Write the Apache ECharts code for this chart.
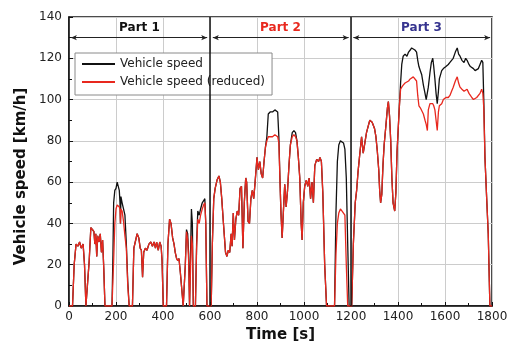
<!DOCTYPE html>
<html>
<head>
<meta charset="utf-8">
<script src="https://cdn.jsdelivr.net/npm/echarts@6/dist/echarts.min.js"></script>
<style>
  html, body { margin: 0; padding: 0; background: #fff; }
  #chart { width: 512px; height: 354px; }
</style>
</head>
<body>
<div id="chart"></div>
<script>
// Drive cycle: time [s], full vehicle speed and reduced vehicle speed [km/h]
const timeS = [
  0, 15, 22, 30, 38, 45, 52, 60, 66, 72, 80, 86, 93, 100, 106, 110, 114, 118, 122, 128,
  133, 138, 143, 148, 153, 183, 187, 190, 195, 200, 205, 210, 214, 217, 219, 221, 226, 232, 238, 244,
  250, 256, 270, 276, 282, 290, 297, 303, 308, 313, 318, 325, 332, 340, 348, 355, 362, 368, 373, 380,
  386, 392, 396, 401, 415, 421, 428, 434, 441, 447, 452, 458, 463, 468, 474, 480, 486, 490, 495, 500,
  505, 509, 513, 517, 521, 525, 529, 538, 543, 548, 554, 560, 567, 573, 578, 582, 587, 605,
  610, 616, 622, 630, 638, 644, 650, 656, 661, 666, 672, 678, 684, 690, 694, 699, 704, 710, 716, 722,
  728, 734, 740, 746, 752, 756, 762, 768, 774, 780, 786, 792, 800, 806, 812, 818, 824, 830, 836, 842,
  848, 856, 866, 876, 888, 893, 898, 902, 907, 912, 918, 924, 930, 936, 942, 950, 957, 964, 970, 976,
  982, 988, 992, 997, 1003, 1010, 1016, 1022, 1028, 1034, 1040, 1046, 1054, 1062, 1068, 1074, 1080, 1088, 1096, 1130,
  1136, 1142, 1148, 1155, 1162, 1168, 1174, 1180, 1186, 1192, 1203,
  1210, 1218, 1224, 1230, 1236, 1245, 1252, 1259, 1266, 1273, 1280, 1290, 1300, 1306, 1312, 1318, 1322, 1326, 1331, 1336,
  1341, 1349, 1355, 1359, 1364, 1369, 1374, 1379, 1386, 1391, 1396, 1401, 1406, 1411, 1416, 1422, 1430, 1438, 1445, 1452,
  1458, 1465, 1472, 1479, 1484, 1489, 1495, 1501, 1508, 1515, 1520, 1525, 1529, 1536, 1542, 1548, 1552, 1557, 1562, 1567,
  1572, 1576, 1586, 1593, 1604, 1614, 1621, 1628, 1635, 1644, 1652, 1658, 1664, 1672, 1681, 1688, 1694, 1702, 1708, 1714,
  1721, 1728, 1735, 1742, 1749, 1756, 1761, 1765, 1770, 1777, 1784, 1791, 1800
];

const speedFull = [
  0, 0, 20, 30, 29, 31, 28, 30, 20, 0, 0, 22, 38, 37, 36, 30, 35, 24, 34, 31,
  35, 26, 32, 18, 0, 0, 25, 50, 56, 57, 60, 60, 56, 50, 40, 53, 50, 47, 44, 30,
  12, 0, 0, 28, 31, 35, 33, 28, 27, 14, 26, 28, 27, 30, 31, 29, 31, 28, 31, 27,
  31, 29, 22, 0, 0, 30, 42, 40, 33, 30, 26, 23, 22, 23, 16, 8, 0, 0, 20, 37,
  35, 25, 0, 0, 47, 40, 0, 0, 30, 46, 44, 47, 50, 51, 52, 40, 0, 0,
  30, 52, 57, 61, 63, 60, 52, 42, 34, 26, 24, 27, 26, 35, 29, 45, 32, 42, 46, 44,
  57, 58, 28, 50, 62, 60, 41, 40, 52, 56, 52, 60, 72, 66, 70, 64, 62, 70, 77, 82,
  93, 94, 94, 95, 94, 82, 60, 45, 33, 45, 59, 48, 56, 68, 78, 84, 85, 84, 80, 72,
  62, 40, 32, 50, 58, 61, 58, 62, 52, 60, 50, 68, 71, 70, 72, 70, 55, 20, 0, 0,
  45, 70, 78, 80, 80, 79, 76, 62, 30, 0, 0,
  30, 50, 56, 65, 72, 82, 74, 79, 84, 87, 90, 89, 86, 82, 75, 66, 56, 50, 54, 68,
  78, 88, 96, 99, 92, 80, 62, 50, 46, 55, 75, 86, 97, 108, 117, 121, 122, 121, 123, 124,
  125, 125, 124, 123, 119, 116, 114, 112, 107, 103, 100, 100, 106, 113, 118, 120, 116, 110, 103, 98,
  104, 110, 114, 115, 116, 117, 118, 119, 120, 123, 125, 122, 121, 119, 118, 120, 119, 117, 116, 116,
  115, 114, 114, 115, 117, 119, 118, 100, 72, 53, 35, 0, 0
];

const speedReduced = [
  0, 0, 20, 30, 29, 31, 28, 30, 20, 0, 0, 22, 38, 37, 36, 30, 35, 24, 34, 31,
  35, 26, 32, 18, 0, 0, 0, 22, 40, 47, 49, 49, 48, 47, 40, 47, 46, 41, 34, 28,
  10, 0, 0, 28, 31, 35, 33, 28, 27, 14, 26, 28, 27, 30, 31, 29, 31, 28, 31, 27,
  31, 29, 22, 0, 0, 30, 42, 40, 33, 30, 26, 23, 22, 23, 16, 8, 0, 0, 20, 36,
  32, 22, 0, 0, 34, 30, 0, 0, 28, 42, 40, 44, 47, 49, 50, 40, 0, 0,
  30, 52, 57, 61, 63, 60, 52, 42, 34, 26, 24, 27, 26, 35, 29, 45, 32, 42, 46, 44,
  57, 58, 28, 50, 62, 60, 41, 40, 52, 56, 52, 60, 72, 66, 70, 64, 62, 70, 77, 80,
  82, 82, 82, 83, 82, 79, 60, 45, 33, 45, 59, 48, 56, 68, 78, 82, 83, 82, 80, 72,
  62, 40, 32, 50, 58, 61, 58, 62, 52, 60, 50, 68, 71, 70, 72, 70, 55, 20, 0, 0,
  25, 40, 45, 47, 46, 45, 44, 20, 0, 0, 0,
  30, 50, 56, 65, 72, 82, 74, 79, 84, 87, 90, 89, 86, 82, 75, 66, 56, 50, 54, 68,
  78, 88, 96, 99, 92, 80, 62, 50, 46, 55, 75, 86, 97, 105, 106, 107, 108, 108, 109, 110,
  110, 111, 111, 109, 102, 97, 96, 96, 93, 90, 88, 85, 95, 98, 98, 98, 97, 95, 90, 85,
  94, 97, 98, 100, 101, 101, 102, 104, 106, 109, 111, 108, 106, 105, 104, 104, 105, 103, 102, 101,
  100, 100, 101, 101, 103, 105, 103, 96, 72, 53, 35, 0, 0
];

// Test-cycle sections shown above the traces
const partNames = ['Part 1', 'Part 2', 'Part 3'];
const partCenters = [300, 900, 1500];
const partStarts = [8, 612, 1210];
const partEnds = [588, 1190, 1792];
const partColors = ['#111111', '#e8281e', '#36348f'];
const partBounds = [600, 1200];

const xTicks = [0, 200, 400, 600, 800, 1000, 1200, 1400, 1600, 1800];
const yTicks = [0, 20, 40, 60, 80, 100, 120, 140];

const FONT = 'DejaVu Sans';
const chart = echarts.init(document.getElementById('chart'), null, { renderer: 'canvas' });

const pairs = arr => timeS.map((t, i) => [t, arr[i]]);

const option = {
  animation: false,
  backgroundColor: '#ffffff',
  grid: {
    left: 69, right: 20, top: 17, bottom: 48,
    show: true, borderColor: '#111', borderWidth: 1.5, backgroundColor: 'transparent'
  },
  legend: {
    orient: 'vertical',
    left: 75, top: 53,
    backgroundColor: '#fff',
    borderColor: '#8a8a8a', borderWidth: 1,
    padding: [4, 7, 6, 7],
    itemGap: 4,
    itemWidth: 33, itemHeight: 2,
    icon: 'rect',
    textStyle: { fontFamily: FONT, fontSize: 12, color: '#222', lineHeight: 14 },
    data: ['Vehicle speed', 'Vehicle speed (reduced)']
  },
  xAxis: {
    type: 'value',
    min: xTicks[0], max: xTicks[xTicks.length - 1], interval: 200,
    name: 'Time [s]', nameLocation: 'middle', nameGap: 17,
    nameTextStyle: { fontFamily: FONT, fontSize: 15, fontWeight: 'bold', color: '#111' },
    axisLine: { show: true, lineStyle: { color: '#111', width: 1.5 } },
    axisTick: { show: true, inside: true, length: 4, lineStyle: { color: '#111' } },
    minorTick: { show: true, splitNumber: 2, length: 3, lineStyle: { color: '#111' } },
    axisLabel: { fontFamily: FONT, fontSize: 12, color: '#222', margin: 5, interval: 0, formatter: v => String(v) },
    splitLine: { show: true, lineStyle: { color: '#cccccc', width: 1 } }
  },
  yAxis: {
    type: 'value',
    min: yTicks[0], max: yTicks[yTicks.length - 1], interval: 20,
    name: 'Vehicle speed [km/h]', nameLocation: 'middle', nameGap: 37, nameRotate: 90,
    nameTextStyle: { fontFamily: FONT, fontSize: 15, fontWeight: 'bold', color: '#111', padding: [0, 30, 0, 0] },
    axisLine: { show: true, lineStyle: { color: '#111', width: 1.5 } },
    axisTick: { show: true, inside: true, length: 4, lineStyle: { color: '#111' } },
    minorTick: { show: true, splitNumber: 2, length: 3, lineStyle: { color: '#111' } },
    axisLabel: { fontFamily: FONT, fontSize: 12, color: '#222', margin: 7, formatter: v => String(v) },
    splitLine: { show: true, lineStyle: { color: '#cccccc', width: 1 } }
  },
  series: [
    {
      name: 'Vehicle speed',
      type: 'line',
      data: pairs(speedFull),
      showSymbol: false,
      color: '#111111',
      lineStyle: { width: 1.3, color: '#111111' },
      z: 3
    },
    {
      name: 'Vehicle speed (reduced)',
      type: 'line',
      data: pairs(speedReduced),
      showSymbol: false,
      color: '#e8281e',
      lineStyle: { width: 1.3, color: '#e8281e' },
      z: 4
    },
    {
      // section boundaries, header arrows and section titles
      name: 'parts',
      type: 'scatter',
      symbolSize: 0,
      silent: true,
      z: 5,
      itemStyle: { opacity: 1 },
      data: partNames.map((n, i) => ({
        value: [partCenters[i], 134.5],
        label: { show: true, position: 'inside', formatter: n, color: partColors[i] }
      })),
      label: { fontFamily: FONT, fontSize: 12, fontWeight: 'bold', opacity: 1 },
      markLine: {
        silent: true,
        animation: false,
        symbol: ['none', 'none'],
        label: { show: false },
        lineStyle: { color: '#111', width: 1.5, type: 'solid' },
        data: partBounds.map(b => ({ xAxis: b })).concat(
          partStarts.map((s, i) => [
            { coord: [s, 130], symbol: 'arrow', symbolSize: [4, 6], lineStyle: { width: 1, color: '#222' } },
            { coord: [partEnds[i], 130], symbol: 'arrow', symbolSize: [4, 6] }
          ])
        )
      }
    }
  ]
};

chart.setOption(option);
</script>
</body>
</html>
